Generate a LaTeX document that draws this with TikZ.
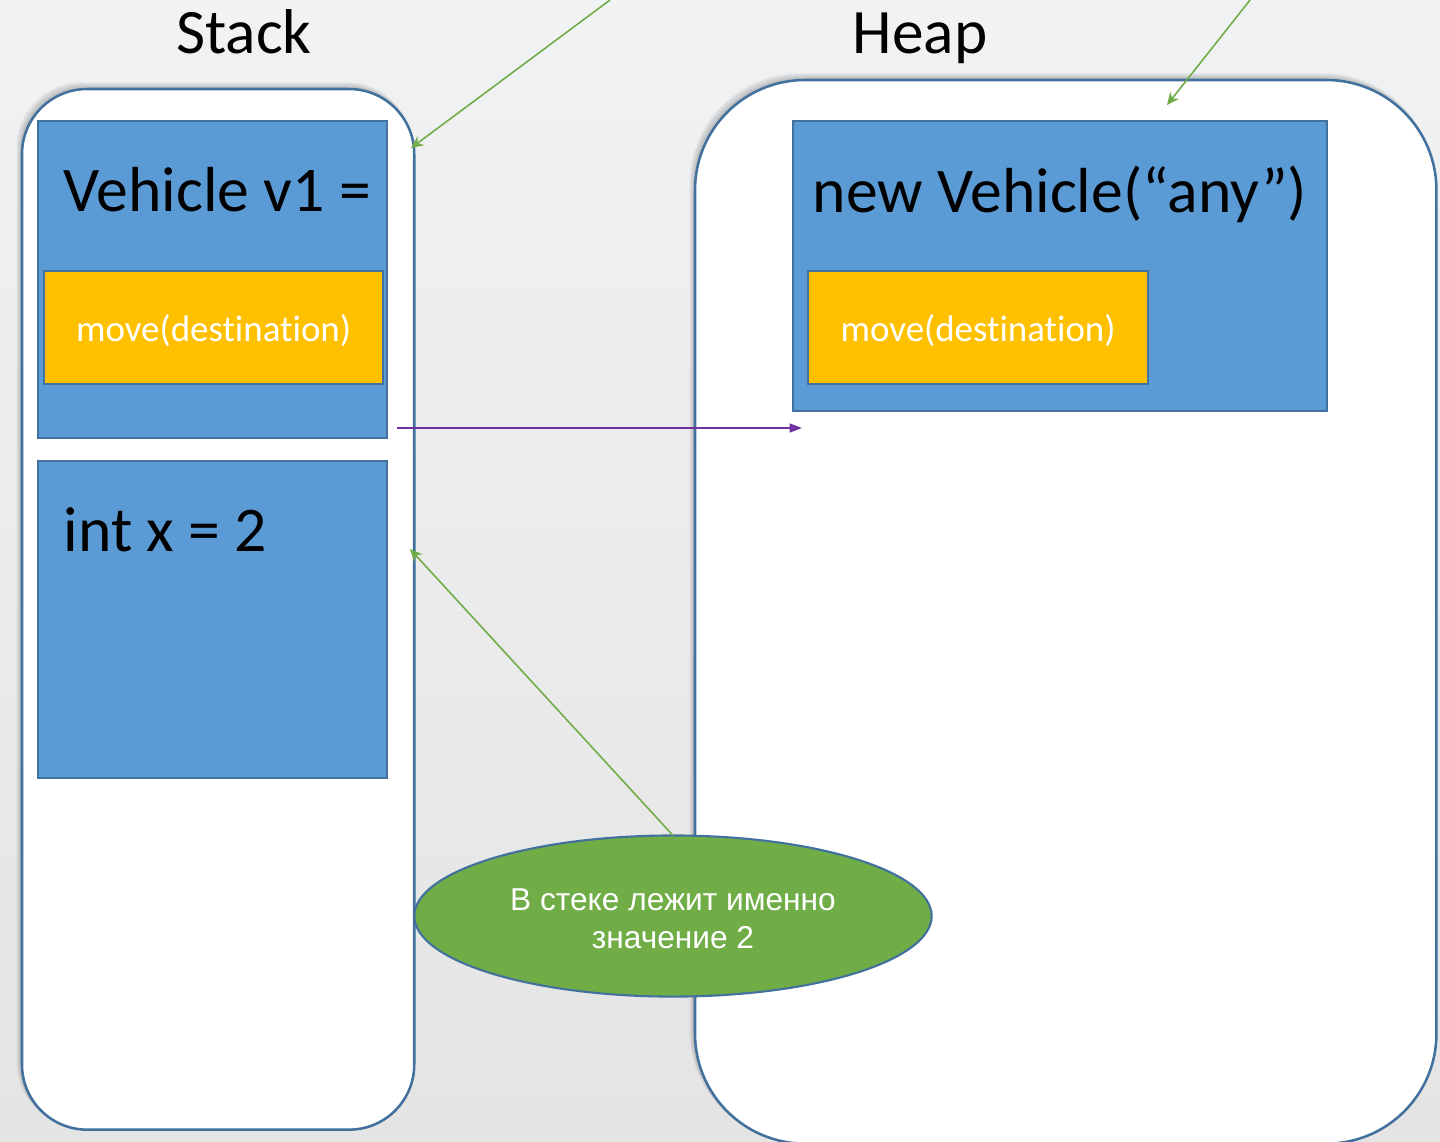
\documentclass[tikz,border=0pt]{standalone}
\usepackage{fontspec}
\setmainfont{Carlito}[Ligatures={NoCommon,NoContextual},RawFeature={-liga;-clig;-calt;-dlig}]
\newfontfamily\arialfont{Liberation Sans}
\usetikzlibrary{arrows.meta,shapes.geometric}
\definecolor{bgtop}{HTML}{F1F2F4}
\definecolor{bgbot}{HTML}{E4E4E4}
\definecolor{outl}{HTML}{41719C}
\definecolor{cellblue}{HTML}{5B9BD5}
\definecolor{gold}{HTML}{FFC000}
\definecolor{leaf}{HTML}{70AD47}
\definecolor{violet}{HTML}{7030A0}
\begin{document}
\begin{tikzpicture}[x=0.01cm,y=-0.01cm,
  panel/.style={draw=outl, line width=0.72pt, fill=white, inner sep=0pt, outer sep=0pt, anchor=north west},
  cell/.style={draw=outl, line width=0.6pt, fill=cellblue, inner sep=0pt, outer sep=0pt, anchor=north west},
  method/.style={draw=outl, line width=0.6pt, fill=gold, inner sep=0pt, outer sep=0pt, anchor=north west},
  methodtext/.style={text=white, inner sep=0pt, font=\fontsize{10.5}{12}\selectfont, yshift=-0.9pt},
  big/.style={font=\fontsize{18.1}{22}\selectfont, anchor=base west, inner sep=0pt},
  title/.style={font=\fontsize{18}{22}\selectfont, anchor=base, inner sep=0pt},
  pointer/.style={draw=leaf, line width=0.45pt, -{Stealth[length=3.5pt,width=3.2pt]}},
  ref/.style={draw=violet, line width=0.55pt, -{Triangle[length=3.5pt,width=2.5pt]}},
  note/.style={ellipse, draw=outl, line width=0.6pt, fill=leaf, inner sep=0pt, outer sep=0pt},
  notetext/.style={text=white, align=center, inner sep=0pt, yshift=-0.8pt,
    font=\arialfont\fontsize{9}{10.7}\selectfont}
]
\shade[top color=bgtop, bottom color=bgbot] (0,0) rectangle (1440,1141);
\useasboundingbox (0,0) rectangle (1440,1141);

% soft shadows
\foreach \k in {1,...,7}{
  \fill[black, opacity=0.035, rounded corners=0.65cm] ({22-\k*0.8},{89-\k}) rectangle ({414-\k*0.3},{1129-\k*0.3});
  \fill[black, opacity=0.035, rounded corners=1.1cm] ({695-\k*0.8},{80-\k}) rectangle ({1436-\k*0.3},{1143-\k*0.3});
}

% panels
\node[panel, rounded corners=0.65cm, minimum width=3.92cm, minimum height=10.40cm] (stack) at (22,89) {};
\node[panel, rounded corners=1.1cm, minimum width=7.41cm, minimum height=10.63cm] (heap) at (695,80) {};

\node[title] (stacktitle) at (244,53) {Stack};
\node[title] (heaptitle) at (920,53) {Heap};

% stack cells
\node[cell, minimum width=3.49cm, minimum height=3.17cm] (vcell) at (38,121) {};
\node[big] (vtext) at (63,211) {Vehicle v1 =};
\node[method, minimum width=3.39cm, minimum height=1.13cm] (vmove) at (44,271) {};
\node[methodtext] (vmovetext) at (vmove.center) {move(destination)};

\node[cell, minimum width=3.49cm, minimum height=3.17cm] (xcell) at (38,461) {};
\node[big] (xtext) at (63,551) {int x = 2};

% heap object
\node[cell, minimum width=5.34cm, minimum height=2.90cm] (obj) at (793,121) {};
\node[big] (objtext) at (812,212) {new Vehicle(“any”)};
\node[method, minimum width=3.40cm, minimum height=1.13cm] (omove) at (808,271) {};
\node[methodtext] (omovetext) at (omove.center) {move(destination)};

% reference arrow
\coordinate (refstart) at (397,428);
\coordinate (refend) at (802,428);
\draw[ref] (refstart) -- (refend);

% green pointers
\coordinate (p1from) at (610,0);
\coordinate (p1to) at (411,148);
\coordinate (p2from) at (1250,0);
\coordinate (p2to) at (1167,105);
\coordinate (p3to) at (410,549);
\draw[pointer] (p1from) -- (p1to);
\draw[pointer] (p2from) -- (p2to);

\node[note, minimum width=5.17cm, minimum height=1.61cm] (comment) at (673,916) {};
\node[notetext] (commenttext) at (comment.center) {В стеке лежит именно\\значение 2};
\draw[pointer] (comment.north) -- (p3to);
\end{tikzpicture}
\end{document}
